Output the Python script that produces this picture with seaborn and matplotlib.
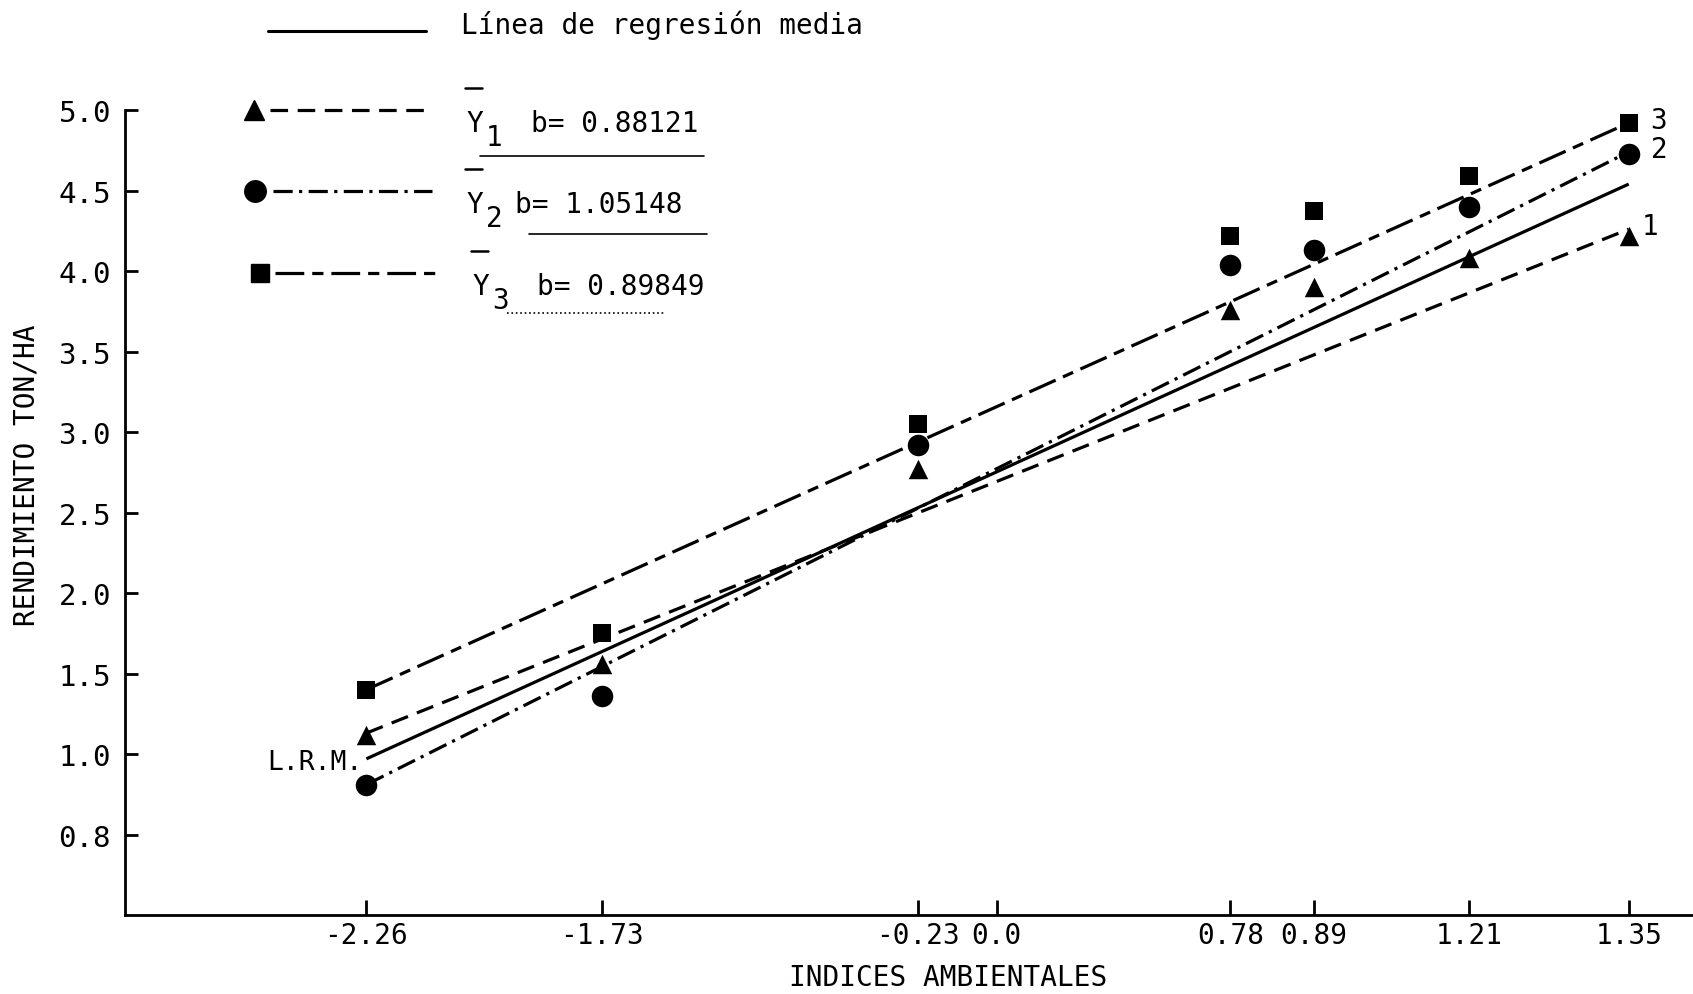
import numpy as np
import matplotlib
matplotlib.use('Agg')
import matplotlib.pyplot as plt
import seaborn as sns
from matplotlib.lines import Line2D

# ============ DataSet ============
env_index = [-2.26, -1.73, -0.23, 0.78, 0.89, 1.21, 1.35]
y1_yield = [1.12, 1.56, 2.77, 3.76, 3.90, 4.08, 4.22]
y2_yield = [0.81, 1.36, 2.92, 4.04, 4.13, 4.40, 4.73]
y3_yield = [1.40, 1.75, 3.05, 4.22, 4.37, 4.59, 4.92]

# regression lines, read at both extreme environments
line_x = [-2.26, 1.35]
lrm_line = [0.97, 4.54]
y1_line = [1.13, 4.26]
y2_line = [0.81, 4.74]
y3_line = [1.40, 4.92]

slopes = ['0.88121', '1.05148', '0.89849']

x_ticks = [-2.26, -1.73, -0.23, 0.0, 0.78, 0.89, 1.21, 1.35]
x_tick_labels = ['-2.26', '-1.73', '-0.23', '0.0', '0.78', '0.89', '1.21', '1.35']
y_ticks = [0.5, 1.0, 1.5, 2.0, 2.5, 3.0, 3.5, 4.0, 4.5, 5.0]
y_tick_labels = ['0.8', '1.0', '1.5', '2.0', '2.5', '3.0', '3.5', '4.0', '4.5', '5.0']

# the original x axis is not drawn to scale: where each tick sits along it
x_axis_frac = [0.154, 0.304, 0.506, 0.556, 0.705, 0.758, 0.857, 0.959]

# ============ Style ============
sns.set_theme(style='ticks')
plt.rcParams['font.family'] = ['DejaVu Sans Mono']
plt.rcParams['axes.linewidth'] = 2.0
FS = 20

# ============ Piecewise axis scale ============
xs = list(x_ticks)
ps = list(x_axis_frac)
x_lo = xs[0] - ps[0] * (xs[1] - xs[0]) / (ps[1] - ps[0])
x_hi = xs[-1] + (1 - ps[-1]) * (xs[-1] - xs[-2]) / (ps[-1] - ps[-2])
xs_ext = np.array([x_lo] + xs + [x_hi])
ps_ext = np.array([0.0] + ps + [1.0])


def fwd(v):
    return np.interp(v, xs_ext, ps_ext)


def inv(p):
    return np.interp(p, ps_ext, xs_ext)


# ============ Figure ============
fig = plt.figure(figsize=(16.93, 9.95), dpi=100)
ax = fig.add_axes([0.0738, 0.0794, 0.9262, 0.8090])

lw = 2.3
ax.plot(line_x, lrm_line, color='black', lw=lw, solid_capstyle='butt')
ax.plot(line_x, y1_line, color='black', lw=lw, ls=(0, (5.5, 3)))
ax.plot(line_x, y2_line, color='black', lw=lw, ls=(0, (6, 2, 1, 2)))
ax.plot(line_x, y3_line, color='black', lw=lw, ls=(0, (9, 2.5, 3.5, 2.5)))

sns.scatterplot(x=env_index, y=y1_yield, marker='^', s=196, color='black',
                linewidth=0, ax=ax, zorder=3)
sns.scatterplot(x=env_index, y=y2_yield, marker='o', s=240, color='black',
                linewidth=0, ax=ax, zorder=3)
sns.scatterplot(x=env_index, y=y3_yield, marker='s', s=174, color='black',
                linewidth=0, ax=ax, zorder=3)

ax.set_xscale('function', functions=(fwd, inv))
ax.set_xlim(x_lo, x_hi)
ax.set_ylim(0.0, 5.0)
ax.set_xticks(x_ticks)
ax.set_xticklabels(x_tick_labels)
ax.set_yticks(y_ticks)
ax.set_yticklabels(y_tick_labels)
ax.minorticks_off()
ax.tick_params(axis='x', direction='in', length=11, width=2, pad=4,
               labelsize=20, colors='black')
ax.tick_params(axis='y', direction='in', length=9, width=2, pad=10,
               labelsize=21, colors='black')
sns.despine(ax=ax)
for s in ['left', 'bottom']:
    ax.spines[s].set_color('black')

ax.set_xlabel('INDICES AMBIENTALES', fontsize=FS, color='black')
ax.set_ylabel('RENDIMIENTO TON/HA', fontsize=FS, color='black')
ax.xaxis.set_label_coords(0.525, -0.06)
ax.yaxis.set_label_coords(-0.054, 0.548)

# ============ Line numbers and L.R.M. ============
ends = [y3_line[1], y2_line[1], y1_line[1]]
for name, yv, dx in zip(['3', '2', '1'], ends, [21.8, 21.8, 15.5]):
    ax.annotate(name, (line_x[1], yv), xytext=(dx, 2), textcoords='offset points',
                ha='center', va='center', fontsize=FS, color='black')
ax.annotate('L.R.M.', (line_x[0], lrm_line[0]), xytext=(-3, -2.5),
            textcoords='offset points', ha='right', va='center', fontsize=FS - 1,
            color='black')

# ============ Hand-drawn legend ============
W, H = 1693.0, 995.0


def fx(px):
    return px / W


def fy(py):
    return 1 - py / H


fig.add_artist(Line2D([fx(268), fx(426)], [fy(32), fy(32)], color='black', lw=2.2))
fig.text(fx(461), fy(34), 'Línea de regresión media', fontsize=FS, va='baseline',
         color='black')

rows = [
    dict(marker='^', ms=14, ls=(0, (5.5, 3)), y=111, mx=254, l0=270, l1=432,
         tx=466, bx=531, u0=480, u1=704, uy=157, uls='-'),
    dict(marker='o', ms=15.5, ls=(0, (6, 2, 1, 2)), y=192, mx=255, l0=273, l1=432,
         tx=466, bx=515, u0=529, u1=707, uy=235, uls='-'),
    dict(marker='s', ms=13.2, ls=(0, (9, 2.5, 3.5, 2.5)), y=274, mx=260, l0=275, l1=437,
         tx=472, bx=537, u0=507, u1=664, uy=314, uls=':'),
]
for i, r in enumerate(rows):
    fig.add_artist(Line2D([fx(r['mx'])], [fy(r['y'])], marker=r['marker'],
                          ms=r['ms'], color='black', lw=0))
    fig.add_artist(Line2D([fx(r['l0']), fx(r['l1'])], [fy(r['y']), fy(r['y'])],
                          color='black', lw=lw, ls=r['ls']))
    base = r['y'] + 21
    fig.text(fx(r['tx']), fy(base), 'Y', fontsize=FS, va='baseline', color='black')
    fig.add_artist(Line2D([fx(r['tx'] - 1), fx(r['tx'] + 16)],
                          [fy(r['y'] - 22), fy(r['y'] - 22)], color='black', lw=1.8))
    fig.text(fx(r['tx'] + 20), fy(base + 14), str(i + 1), fontsize=FS, va='baseline',
             color='black')
    fig.text(fx(r['bx']), fy(base), 'b= ' + slopes[i], fontsize=FS, va='baseline',
             color='black')
    fig.add_artist(Line2D([fx(r['u0']), fx(r['u1'])], [fy(r['uy']), fy(r['uy'])],
                          color='black', lw=1.2, ls=r['uls']))

fig.savefig('out.png', dpi=100, facecolor='white')
